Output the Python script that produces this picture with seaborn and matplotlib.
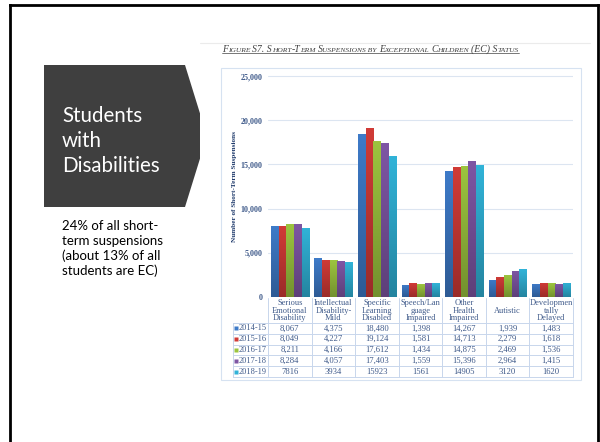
import numpy as np
import pandas as pd
import matplotlib
matplotlib.use('Agg')
import matplotlib.pyplot as plt
import seaborn as sns
from matplotlib.patches import Polygon, Rectangle
from matplotlib.lines import Line2D
from matplotlib.colors import LinearSegmentedColormap, to_rgb
from matplotlib.ticker import StrMethodFormatter
from matplotlib.offsetbox import TextArea, HPacker, AnnotationBbox

# data
categories = ['Serious\nEmotional\nDisability', 'Intellectual\nDisability-\nMild',
              'Specific\nLearning\nDisabled', 'Speech/Lan\nguage\nImpaired',
              'Other\nHealth\nImpaired', 'Autistic', 'Developmen\ntally\nDelayed']
years = ['2014-15', '2015-16', '2016-17', '2017-18', '2018-19']
v_2014_15 = [8067, 4375, 18480, 1398, 14267, 1939, 1483]
v_2015_16 = [8049, 4227, 19124, 1581, 14713, 2279, 1618]
v_2016_17 = [8211, 4166, 17612, 1434, 14875, 2469, 1536]
v_2017_18 = [8284, 4057, 17403, 1559, 15396, 2964, 1415]
v_2018_19 = [7816, 3934, 15923, 1561, 14905, 3120, 1620]
series = [v_2014_15, v_2015_16, v_2016_17, v_2017_18, v_2018_19]
colors = ['#3E7BC9', '#D13B37', '#9CC43F', '#7E56A4', '#31B3D8']

title = 'Figure S7. Short-Term Suspensions by Exceptional Children (EC) Status'
box_title = 'Students\nwith\nDisabilities'
box_note = '24% of all short-\nterm suspensions\n(about 13% of all\nstudents are EC)'

df = pd.DataFrame({
    'category': np.tile(categories, len(years)),
    'year': np.repeat(years, len(categories)),
    'count': np.concatenate(series),
})

sns.set_style('white')
SERIF = 'Liberation Serif'
TXT = '#3F5A8A'
W, H = 600, 442


def fx(px):
    return px / W


def fy(py):
    return 1 - py / H


fig = plt.figure(figsize=(6, 4.42), dpi=100)

# slide frame: left, top and right edges only
for xs, ys in [([10, 10], [5, 442]), ([10, 597.5], [5, 5]), ([597.5, 597.5], [5, 442])]:
    fig.add_artist(Line2D([fx(x) for x in xs], [fy(y) for y in ys], transform=fig.transFigure,
                          color='black', lw=2, solid_capstyle='projecting', zorder=-3))

# dark arrow box on the left
pent = [(44, 65), (185, 65), (207, 136), (185, 207), (44, 207)]
fig.add_artist(Polygon([(fx(x), fy(y)) for x, y in pent], closed=True,
                       transform=fig.transFigure, fc='#3F3F3F', ec='none', zorder=-2))
fig.text(fx(62), fy(106), box_title, color='white', fontsize=14.8, family='Lato',
         va='top', ha='left', linespacing=1.3)
fig.text(fx(62), fy(220), box_note, color='black', fontsize=9.5, family='Lato',
         va='top', ha='left', linespacing=1.27)

# pasted chart picture: white background, faint edge, light blue box
fig.add_artist(Rectangle((fx(200), fy(400)), fx(590) - fx(200), fy(43) - fy(400),
                         transform=fig.transFigure, fc='white', ec='none', zorder=-1))
fig.add_artist(Line2D([fx(200), fx(590)], [fy(43), fy(43)], transform=fig.transFigure,
                      color='#EBEBEB', lw=0.8, zorder=-1))
fig.add_artist(Rectangle((fx(221), fy(380)), fx(581) - fx(221), fy(68) - fy(380),
                         transform=fig.transFigure, fill=False, ec='#D6E2F1', lw=0.8, zorder=-0.5))

# small caps title
parts = []
run, run_small = '', None
for ch in title:
    is_small = ch.islower() if ch != ' ' else (run_small if run_small is not None else False)
    if run_small is None or is_small == run_small:
        run += ch
        run_small = is_small
    else:
        parts.append((run, run_small))
        run, run_small = ch, is_small
parts.append((run, run_small))
boxes = [TextArea(t.upper(), textprops=dict(fontsize=5.4 if sm else 7.0, family=SERIF,
                                            style='italic', color='#404040'))
         for t, sm in parts]
pack = HPacker(children=boxes, align='baseline', pad=0, sep=0)
ab = AnnotationBbox(pack, (fx(222), fy(49)), xycoords='figure fraction',
                    box_alignment=(0, 0.5), frameon=False, pad=0)
fig.add_artist(ab)

# bar chart
ax = fig.add_axes([fx(268), fy(297), fx(573) - fx(268), fy(71.6) - fy(297)])
ax.patch.set_alpha(0)
sns.barplot(data=df, x='category', y='count', hue='year', order=categories,
            hue_order=years, palette=colors, saturation=1, width=0.88, gap=0.08,
            edgecolor='white', linewidth=0.3, legend=False, ax=ax)

# vertical shading on each bar
grad = np.linspace(0, 1, 64).reshape(-1, 1)
for bar in list(ax.patches):
    x0, w, h = bar.get_x(), bar.get_width(), bar.get_height()
    base = np.array(to_rgb(bar.get_facecolor()))
    cmap = LinearSegmentedColormap.from_list('shade', [base * 0.74, base])
    im = ax.imshow(grad, extent=[x0, x0 + w, 0, h], origin='lower', aspect='auto',
                   cmap=cmap, zorder=bar.get_zorder())
    im.set_clip_path(bar)

ax.set_aspect('auto')
ax.set_xlim(-0.5, len(categories) - 0.5)
ax.set_ylim(0, 25500)
ax.set_yticks(range(0, 25001, 5000))
ax.yaxis.set_major_formatter(StrMethodFormatter('{x:,.0f}'))
ax.set_xticks([])
ax.set_xlabel('')
ax.set_ylabel('Number of Short-Term Suspensions', fontsize=5.2, fontweight='bold',
              family=SERIF, color='#1F3A6B')
ax.yaxis.set_label_coords(-0.102, 0.49)
ax.tick_params(axis='y', length=0, pad=4, labelsize=5.8, labelcolor=TXT)
for lab in ax.get_yticklabels():
    lab.set_family(SERIF)
    lab.set_fontweight('bold')
ax.yaxis.grid(True, color='#DCE5F1', lw=0.8)
ax.set_axisbelow(True)
for s in ax.spines.values():
    s.set_visible(False)

# data table under the chart
tab = fig.add_axes([fx(268), fy(377), fx(573) - fx(268), fy(298) - fy(377)])
tab.set_xlim(-0.5, len(categories) - 0.5)
tab.set_ylim(377, 298)
tab.axis('off')
col_w = (573 - 268) / len(categories)


def dx(px):
    return (px - 268) / col_w - 0.5


line_c = '#C8D6EC'
left = dx(233)
right = len(categories) - 0.5
row_h = (377 - 323) / len(years)
for i in range(len(categories) + 1):
    tab.plot([i - 0.5, i - 0.5], [298, 377], color=line_c, lw=0.7, clip_on=False)
tab.plot([left, left], [323, 377], color=line_c, lw=0.7, clip_on=False)
for k in range(len(years) + 1):
    yk = 323 + k * row_h
    tab.plot([left, right], [yk, yk], color=line_c, lw=0.7, clip_on=False)

for i, cat in enumerate(categories):
    tab.text(i, 310.5, cat, ha='center', va='center', fontsize=6.0, family=SERIF,
             color=TXT, linespacing=0.95)

for k, (yr, vals, c) in enumerate(zip(years, series, colors)):
    yc = 323 + (k + 0.5) * row_h
    tab.plot([dx(236)], [yc], marker='s', ms=2.8, color=c, mec='none', clip_on=False)
    tab.text(dx(238.5), yc, yr, ha='left', va='center', fontsize=6.0, family=SERIF,
             color=TXT)
    for i, v in enumerate(vals):
        s = '{:,}'.format(v) if k < len(years) - 1 else str(v)
        tab.text(i, yc, s, ha='center', va='center', fontsize=6.2, family=SERIF, color=TXT)

# underline the title
fig.canvas.draw()
bb = ab.get_window_extent(fig.canvas.get_renderer())
fig.add_artist(Line2D([bb.x0 / W, bb.x1 / W], [(bb.y0 + 0.6) / H] * 2,
                      transform=fig.transFigure, color='#404040', lw=0.5))

fig.savefig('out.png', dpi=100)
